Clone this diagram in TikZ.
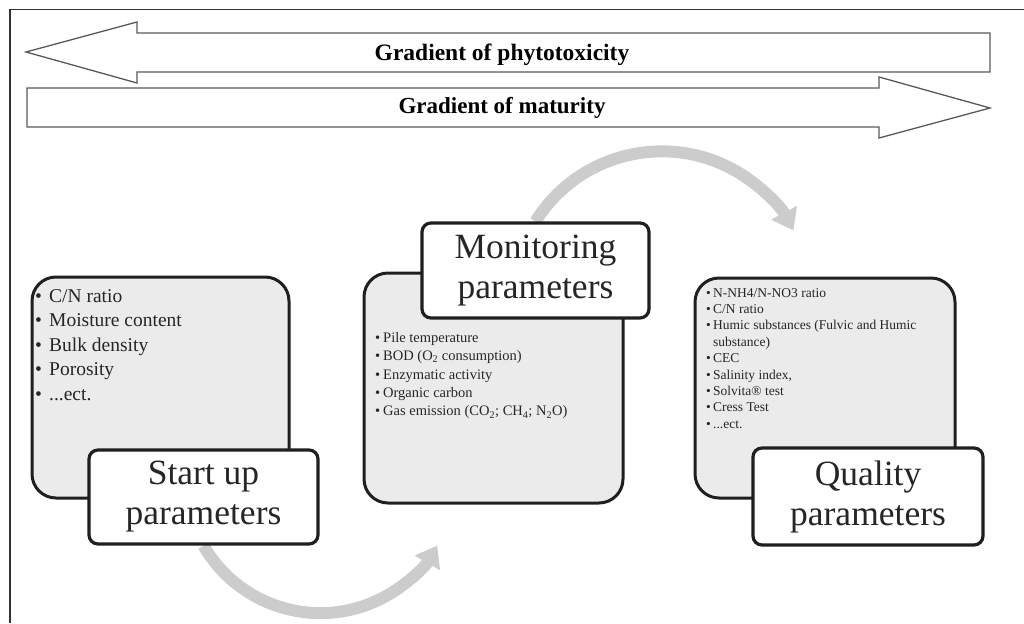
\documentclass[tikz,border=0pt]{standalone}
\usepackage{fontspec}
\setmainfont{Liberation Serif}
\usetikzlibrary{arrows.meta}
\pgfdeclarelayer{back}
\pgfsetlayers{back,main}

\tikzset{
  panel/.style={draw=black!88,line width=3pt,rounded corners=24pt,fill=black!8,inner sep=0pt},
  tag/.style={draw=black!88,line width=3.2pt,rounded corners=9pt,fill=white,align=center,
    inner sep=0pt,text=black!85,font=\fontsize{35.5}{40}\selectfont},
  items/.style={anchor=north west,align=left,inner sep=0pt,text=black!85},
  band/.style={draw=black!65,line width=1.3pt,fill=white},
  flow/.style={draw=black!20,line width=12pt,-{Triangle[width=28pt,length=20pt]}},
}
\newcommand{\itm}[1]{\makebox[#1][l]{\textbullet}}

\begin{document}
\begin{tikzpicture}[x=1pt,y=-1pt]
\useasboundingbox (0,0) rectangle (1024,623);
% ---------- frame ----------
\draw[black!80,line width=1.6pt] (10,623) -- (10,9.5) -- (1024,9.5);
% ---------- gradient bands ----------
\draw[band] (26,52) -- (137,22) -- (137,33) -- (990,33) -- (990,72) -- (137,72) -- (137,83) -- cycle;
\node[font=\bfseries\fontsize{23.5}{26}\selectfont] (phyto) at (502,55) {Gradient of phytotoxicity};
\draw[band] (990,108) -- (879,77) -- (879,88) -- (27,88) -- (27,127) -- (879,127) -- (879,138) -- cycle;
\node[font=\bfseries\fontsize{23}{26}\selectfont] (matur) at (502,108) {Gradient of maturity};
% ---------- parameter panels ----------
\node[panel,minimum width=257,minimum height=221] (startbox) at (160.5,387.5) {};
\node[panel,minimum width=259,minimum height=230] (monibox) at (493.5,388) {};
\node[panel,minimum width=260,minimum height=220] (qualbox) at (825,388) {};
% lists
\node[items,font=\fontsize{19.5}{24.5}\selectfont] (startlist) at (35,289) {%
  \itm{14pt}C/N ratio\\ \itm{14pt}Moisture content\\ \itm{14pt}Bulk density\\
  \itm{14pt}Porosity\\ \itm{14pt}...ect.};
\node[items,font=\fontsize{14.5}{18.4}\selectfont] (monilist) at (375,332) {%
  \itm{8pt}Pile temperature\\ \itm{8pt}BOD (O\textsubscript{2} consumption)\\
  \itm{8pt}Enzymatic activity\\ \itm{8pt}Organic carbon\\
  \itm{8pt}Gas emission (CO\textsubscript{2}; CH\textsubscript{4}; N\textsubscript{2}O)};
\node[items,font=\fontsize{13.5}{16.4}\selectfont] (quallist) at (706,288) {%
  \itm{7pt}N-NH4/N-NO3 ratio\\ \itm{7pt}C/N ratio\\
  \itm{7pt}Humic substances (Fulvic and Humic\\ \hspace*{7pt}substance)\\
  \itm{7pt}CEC\\ \itm{7pt}Salinity index,\\ \itm{7pt}Solvita® test\\
  \itm{7pt}Cress Test\\ \itm{7pt}...ect.};
% title tags
\node[tag,minimum width=229,minimum height=94] (starttag) at (203.5,497) {Start up\\parameters};
\node[tag,minimum width=227,minimum height=95] (monitag) at (535.5,270.5) {Monitoring\\parameters};
\node[tag,minimum width=230,minimum height=97] (qualtag) at (868,496.5) {Quality\\parameters};
% ---------- flow arrows ----------
\begin{pgfonlayer}{back}
\draw[flow] (starttag.south) arc[start angle=150,end angle=30,radius=135];
\draw[flow] (monitag.north) arc[start angle=212,end angle=332,radius=149];
\end{pgfonlayer}
\end{tikzpicture}
\end{document}
